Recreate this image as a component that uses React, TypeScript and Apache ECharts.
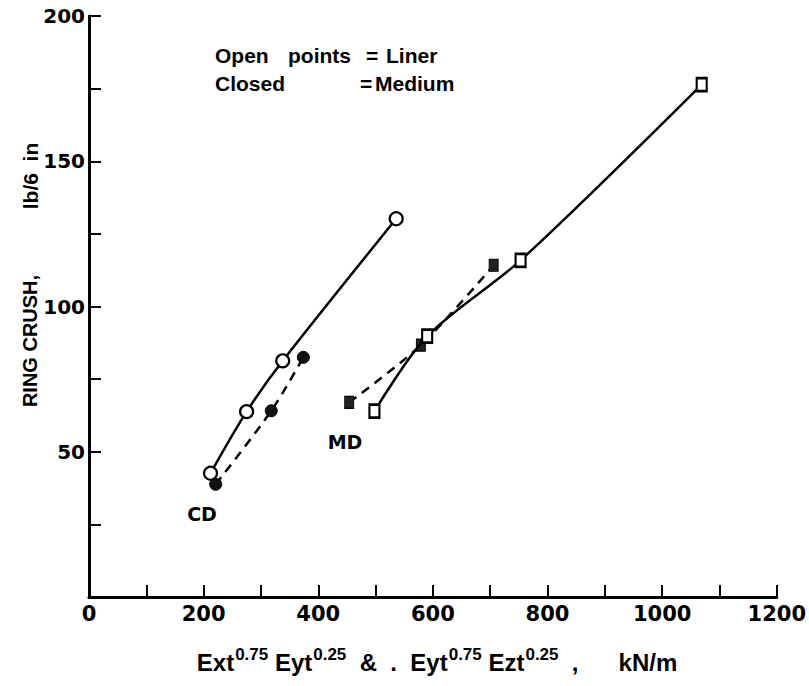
import React, { useEffect, useRef } from 'react';
import * as echarts from 'echarts';

// CD direction – liner (open circles, solid line)
const cdLinerX = [212, 275, 338, 536];
const cdLinerY = [42.6, 63.8, 81.3, 130.2];
// CD direction – medium (closed circles, dashed line)
const cdMediumX = [221, 318, 374];
const cdMediumY = [38.8, 64.1, 82.5];
// MD direction – liner (open squares, solid line)
const mdLinerX = [498, 590, 753, 1069];
const mdLinerY = [64.0, 89.8, 115.9, 176.4];
// MD direction – medium (closed squares, dashed line)
const mdMediumX = [454, 579, 706];
const mdMediumY = [67.0, 86.7, 114.2];

const xLabelValues = [0, 200, 400, 600, 800, 1000, 1200];
const yLabelValues = [50, 100, 150, 200];

const zip = (xs: number[], ys: number[]) => xs.map((x, i) => [x, ys[i]]);

const FONT_NUM = 'DejaVu Sans';
const FONT_TXT = 'Liberation Sans';

export default function App() {
  const ref = useRef<HTMLDivElement>(null);
  useEffect(() => {
    if (!ref.current) return;
    const chart = echarts.init(ref.current, undefined, { renderer: 'svg' });
    const lineW = 2.5;
    const legendFont = `bold 21px "${FONT_TXT}"`;
    const txt = (x: number, y: number, text: string, font: string, extra: any = {}) => ({
      type: 'text',
      x,
      y,
      ...extra,
      style: { text, font, fill: '#000', verticalAlign: 'middle', ...(extra.style || {}) },
    });
    const smoothCfg = { smooth: 0.3 };
    chart.setOption({
      animation: false,
      backgroundColor: '#ffffff',
      grid: { left: 89, right: 25, top: 16, bottom: 89, containLabel: false },
      xAxis: {
        type: 'value',
        min: 0,
        max: 1200,
        interval: 100,
        splitLine: { show: false },
        axisLine: { show: true, lineStyle: { color: '#000', width: 3 } },
        axisTick: { show: true, inside: true, length: 12, lineStyle: { color: '#000', width: 2 } },
        axisLabel: {
          margin: 6,
          color: '#000',
          fontFamily: FONT_NUM,
          fontWeight: 'bold',
          fontSize: 21,
          formatter: (v: number) => (xLabelValues.includes(v) ? String(v) : ''),
        },
      },
      yAxis: {
        type: 'value',
        min: 0,
        max: 200,
        interval: 25,
        splitLine: { show: false },
        axisLine: { show: true, lineStyle: { color: '#000', width: 3 } },
        axisTick: { show: true, inside: true, length: 12, lineStyle: { color: '#000', width: 2 } },
        axisLabel: {
          margin: 4,
          color: '#000',
          fontFamily: FONT_NUM,
          fontWeight: 'bold',
          fontSize: 20,
          formatter: (v: number) => (yLabelValues.includes(v) ? String(v) : ''),
        },
      },
      series: [
        {
          name: 'CD Liner',
          type: 'line',
          data: zip(cdLinerX, cdLinerY),
          ...smoothCfg,
          symbol: 'circle',
          symbolSize: 13,
          itemStyle: { color: '#fff', borderColor: '#000', borderWidth: 2.2 },
          lineStyle: { color: '#000', width: lineW },
          z: 3,
        },
        {
          name: 'CD Medium',
          type: 'line',
          data: zip(cdMediumX, cdMediumY),
          ...smoothCfg,
          symbol: 'circle',
          symbolSize: 12,
          itemStyle: { color: '#111', borderColor: '#000', borderWidth: 1 },
          lineStyle: { color: '#000', width: lineW, type: [9, 7] },
          z: 2,
        },
        {
          name: 'MD Liner',
          type: 'line',
          data: zip(mdLinerX, mdLinerY),
          ...smoothCfg,
          symbol: 'rect',
          symbolSize: [10, 13],
          itemStyle: { color: '#fff', borderColor: '#000', borderWidth: 2.4 },
          lineStyle: { color: '#000', width: lineW },
          z: 3,
        },
        {
          name: 'MD Medium',
          type: 'line',
          data: zip(mdMediumX, mdMediumY),
          ...smoothCfg,
          symbol: 'rect',
          symbolSize: [9, 12],
          itemStyle: { color: '#222', borderColor: '#000', borderWidth: 1 },
          lineStyle: { color: '#000', width: lineW, type: [9, 7] },
          z: 2,
        },
      ],
      graphic: [
        txt(215, 55, 'Open', legendFont),
        txt(288, 55, 'points', legendFont),
        txt(366, 55, '=', legendFont),
        txt(386, 55, 'Liner', legendFont),
        txt(215, 83, 'Closed', legendFont),
        txt(360, 83, '=', legendFont),
        txt(375, 83, 'Medium', legendFont),
        txt(202, 514, 'CD', `bold 19px "${FONT_NUM}"`, { style: { align: 'center' } }),
        txt(345, 442, 'MD', `bold 19px "${FONT_NUM}"`, { style: { align: 'center' } }),
        txt(30, 341, 'RING CRUSH,', `bold 20px "${FONT_TXT}"`, { rotation: Math.PI / 2, style: { align: 'center' } }),
        txt(30, 176, 'lb/6  in', `bold 21px "${FONT_TXT}"`, { rotation: Math.PI / 2, style: { align: 'center' } }),
        {
          type: 'text',
          x: 437,
          y: 662,
          style: {
            text: '{b|Ext}{s|0.75}{b| Eyt}{s|0.25}{b|  &  .  Eyt}{s|0.75}{b| Ezt}{s|0.25}{b|  ,      kN/m}',
            align: 'center',
            verticalAlign: 'middle',
            fill: '#000',
            rich: {
              b: { fontFamily: FONT_TXT, fontWeight: 'bold', fontSize: 24, fill: '#000' },
              s: { fontFamily: FONT_TXT, fontWeight: 'bold', fontSize: 17, padding: [0, 0, 16, 1], fill: '#000' },
            },
          },
        },
      ],
    });
    return () => chart.dispose();
  }, []);
  return (
    <div
      ref={ref}
      style={{ position: 'absolute', left: 0, top: 0, width: 809, height: 686, background: '#fff' }}
    />
  );
}
